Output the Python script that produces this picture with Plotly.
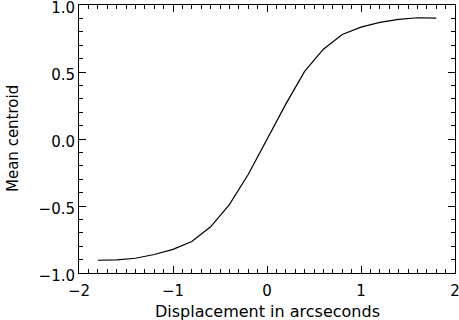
import plotly.graph_objects as go

displacement = [-1.8, -1.6, -1.4, -1.2, -1.0, -0.8, -0.6, -0.4, -0.2, 0.0,
                0.2, 0.4, 0.6, 0.8, 1.0, 1.2, 1.4, 1.6, 1.8]
mean_centroid = [-0.905, -0.902, -0.89, -0.862, -0.824, -0.765, -0.655, -0.49, -0.265, -0.005,
                 0.26, 0.505, 0.67, 0.78, 0.835, 0.87, 0.893, 0.905, 0.902]

x_ticks = [-2, -1, 0, 1, 2]
y_ticks = [-1.0, -0.5, 0.0, 0.5, 1.0]
x_title = "Displacement in arcseconds"
y_title = "Mean centroid"

font = dict(family="DejaVu Sans", size=15, color="black")

fig = go.Figure()
fig.add_trace(go.Scatter(x=displacement, y=mean_centroid, mode="lines",
                         line=dict(color="black", width=1.2), showlegend=False))

axis_common = dict(showline=True, linecolor="black", linewidth=1, mirror="allticks",
                   ticks="inside", ticklen=7, tickcolor="black", tickwidth=1,
                   showgrid=False, zeroline=False, tickfont=font, automargin=False,
                   ticklabeloverflow="allow")

fig.update_xaxes(range=[-2, 2], tickvals=x_ticks,
                 ticktext=[f"{v:d}".replace("-", "\u2212") for v in x_ticks],
                 ticklabelstandoff=4,
                 minor=dict(dtick=0.1, ticks="inside", ticklen=4, tickcolor="black", showgrid=False),
                 **axis_common)
fig.update_yaxes(range=[-1, 1], tickvals=y_ticks, tickformat=".1f",
                 ticklabelshift=3,
                 minor=dict(dtick=0.1, ticks="inside", ticklen=4, tickcolor="black", showgrid=False),
                 **axis_common)

fig.add_annotation(text=x_title, xref="paper", yref="paper", x=0.5, y=0,
                   yshift=-38, showarrow=False, font=dict(font, size=16), yanchor="middle")
fig.add_annotation(text=y_title, xref="paper", yref="paper", x=0, y=0.5,
                   xshift=-66, showarrow=False, font=font, textangle=-90, xanchor="center")

fig.update_layout(width=459, height=320, margin=dict(l=79, r=4, t=5, b=47),
                  paper_bgcolor="white", plot_bgcolor="white", font=font)

fig.write_html("out.html", config={"displayModeBar": False},
               post_script="document.body.style.margin='0';")
